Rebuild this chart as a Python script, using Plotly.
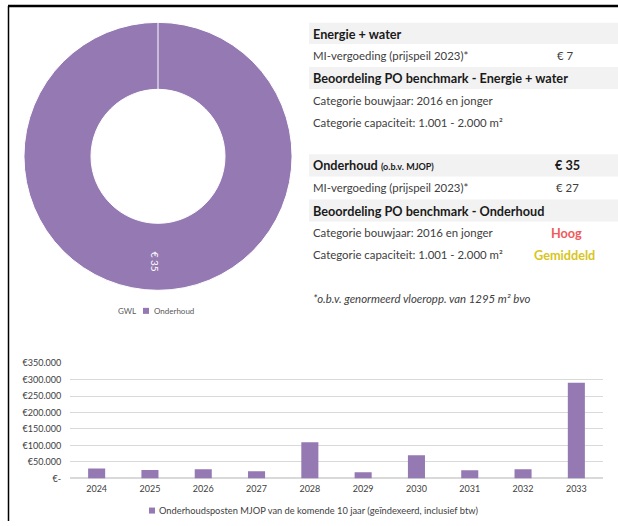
import plotly.graph_objects as go

W, H = 618, 526

# ---- data ----
pie_labels = ["GWL", "Onderhoud"]
pie_values = [0, 35]

years = ["2024", "2025", "2026", "2027", "2028", "2029", "2030", "2031", "2032", "2033"]
mjop_values = [30000, 26000, 28000, 22000, 110000, 19000, 70000, 25000, 28000, 290000]
y_ticks = [0, 50000, 100000, 150000, 200000, 250000, 300000, 350000]
y_ticklabels = ["€-", "€50.000", "€100.000", "€150.000", "€200.000", "€250.000", "€300.000", "€350.000"]

mi_energie = 7
mi_onderhoud = 27
onderhoud_mjop = 35
norm_floor = 1295

PURPLE = "#9579b3"
FONT = "Lato, 'Open Sans', sans-serif"
TXT = "#404040"

# visible plot area, as measured in the rendered page
TOP_OFF = 6.2
EFF_H = 513.2


def px(x):
    return x / W


def py(y):
    return 1 - (y - TOP_OFF) / EFF_H


fig = go.Figure()

fig.add_trace(go.Pie(
    labels=pie_labels, values=pie_values, hole=0.5, sort=False, direction="clockwise",
    marker=dict(colors=["#7f6aa0", PURPLE], line=dict(color="white", width=1)),
    textinfo="none", hoverinfo="label+value", showlegend=False,
    domain=dict(x=[px(24), px(292)], y=[py(290), py(22)]),
))

fig.add_trace(go.Bar(
    x=years, y=mjop_values, marker=dict(color=PURPLE, line=dict(width=0)),
    width=0.32, showlegend=False,
    name="Onderhoudsposten MJOP van de komende 10 jaar (geïndexeerd, inclusief btw)",
))

shapes = []
annotations = []

# border lines
shapes.append(dict(type="line", xref="paper", yref="paper", x0=px(8), x1=1, y0=1, y1=1,
                   line=dict(color="black", width=2.5)))
shapes.append(dict(type="line", xref="paper", yref="paper", x0=px(8.5), x1=px(8.5), y0=0, y1=1,
                   line=dict(color="black", width=1.5)))

# donut slice edge at top
shapes.append(dict(type="line", xref="paper", yref="paper", x0=px(158), x1=px(158), y0=py(22), y1=py(89),
                   line=dict(color="white", width=1)))

# donut label
annotations.append(dict(x=px(147), y=py(261), xref="paper", yref="paper", text=f"€ {pie_values[1]}",
                        textangle=90, showarrow=False, font=dict(color="white", size=10, family=FONT)))

# donut legend
annotations.append(dict(x=px(116), y=py(310), xref="paper", yref="paper", text=pie_labels[0], xanchor="left",
                        showarrow=False, font=dict(color="#595959", size=8, family=FONT)))
shapes.append(dict(type="rect", xref="paper", yref="paper", x0=px(143), x1=px(149), y0=py(313), y1=py(307),
                   fillcolor=PURPLE, line=dict(width=0)))
annotations.append(dict(x=px(152), y=py(310), xref="paper", yref="paper", text=pie_labels[1], xanchor="left",
                        showarrow=False, font=dict(color="#595959", size=8, family=FONT)))

# table bands
for y0, y1 in [(23, 44), (67, 89), (154, 176), (199, 221)]:
    shapes.append(dict(type="rect", xref="paper", yref="paper", x0=px(309), x1=1, y0=py(y1), y1=py(y0),
                       fillcolor="#f2f2f2", line=dict(width=0), layer="below"))


def txt(x, y, s, size=11, color=TXT, bold=False, italic=False, anchor="left"):
    if bold:
        s = f"<b>{s}</b>"
    if italic:
        s = f"<i>{s}</i>"
    annotations.append(dict(x=px(x), y=py(y), xref="paper", yref="paper", text=s, xanchor=anchor,
                            yanchor="middle", showarrow=False, font=dict(color=color, size=size, family=FONT)))


BOLD = 12.7
BODY = 11.4
txt(311, 34, "Energie + water", size=BOLD, color="#1a1a1a", bold=True)
txt(311, 56, "MI-vergoeding (prijspeil 2023)*", size=BODY)
txt(555, 56, f"€ {mi_energie}", size=BODY)
txt(311, 78, "Beoordeling PO benchmark - Energie + water", size=BOLD, color="#1a1a1a", bold=True)
txt(311, 100, "Categorie bouwjaar: 2016 en jonger", size=BODY)
txt(311, 122, "Categorie capaciteit: 1.001 - 2.000 m²", size=BODY)

txt(311, 165, "Onderhoud <span style='font-size:9px'>(o.b.v. MJOP)</span>", size=BOLD, color="#1a1a1a", bold=True)
txt(553, 165, f"€ {onderhoud_mjop}", size=BOLD, color="#1a1a1a", bold=True)
txt(311, 187, "MI-vergoeding (prijspeil 2023)*", size=BODY)
txt(554, 187, f"€ {mi_onderhoud}", size=BODY)
txt(311, 210, "Beoordeling PO benchmark - Onderhoud", size=BOLD, color="#1a1a1a", bold=True)
txt(311, 232, "Categorie bouwjaar: 2016 en jonger", size=BODY)
txt(549, 232, "Hoog", size=BOLD, color="#f05a5a", bold=True)
txt(311, 254, "Categorie capaciteit: 1.001 - 2.000 m²", size=BODY)
txt(532, 254, "Gemiddeld", size=BOLD, color="#d8c51c", bold=True)
txt(311, 298, f"*o.b.v. genormeerd vloeropp. van {norm_floor} m² bvo", size=BODY, italic=True)

# bar chart legend
shapes.append(dict(type="rect", xref="paper", yref="paper", x0=px(149), x1=px(155), y0=py(512), y1=py(506),
                   fillcolor=PURPLE, line=dict(width=0)))
annotations.append(dict(x=px(157), y=py(509), xref="paper", yref="paper",
                        text="Onderhoudsposten MJOP van de komende 10 jaar (geïndexeerd, inclusief btw)",
                        xanchor="left", yanchor="middle", showarrow=False,
                        font=dict(color="#404040", size=9.3, family=FONT)))

fig.update_layout(
    width=W, height=H, margin=dict(l=0, r=0, t=0, b=0),
    paper_bgcolor="white", plot_bgcolor="white",
    font=dict(family=FONT, color=TXT),
    bargap=0.68,
    xaxis=dict(domain=[px(70), px(603)], showgrid=False, showline=False, ticks="outside", ticklen=2,
               tickcolor="rgba(0,0,0,0)", tickfont=dict(size=9, color="#404040"), type="category"),
    yaxis=dict(domain=[py(477), py(362)], range=[0, 350000], tickvals=y_ticks, ticktext=y_ticklabels,
               showgrid=True, gridcolor="#d9d9d9", gridwidth=1, zeroline=True, zerolinecolor="#d9d9d9",
               zerolinewidth=1.5, tickfont=dict(size=9, color="#404040"), ticks="outside", ticklen=6,
               tickcolor="rgba(0,0,0,0)", showline=False),
    shapes=shapes, annotations=annotations,
)

fig.write_html("out.html", config={"displayModeBar": False},
               post_script="document.body.style.margin='0';document.body.style.overflow='hidden';")
